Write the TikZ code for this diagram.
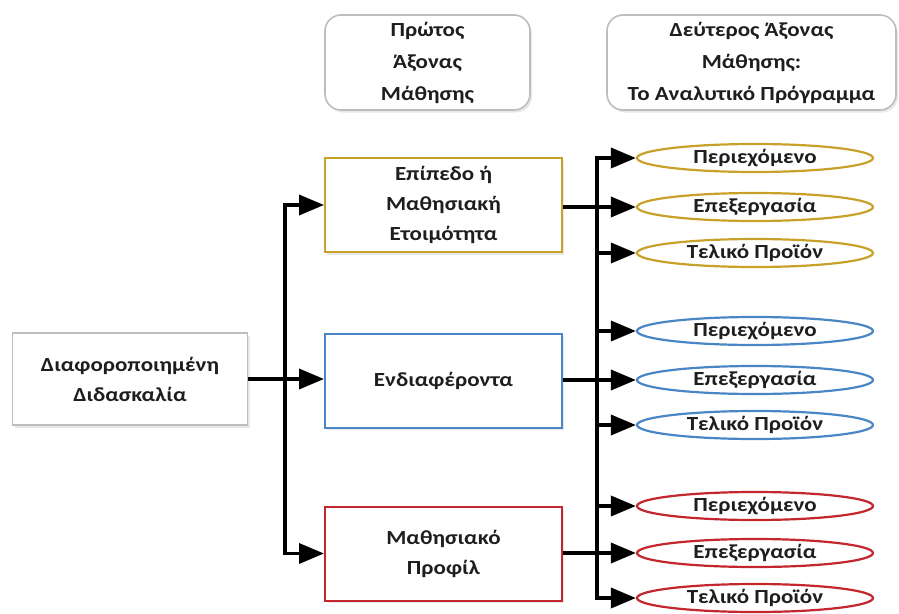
\documentclass[tikz,border=0pt]{standalone}
\usepackage{fontspec}
\setmainfont{Carlito}[FakeStretch=1.15]
\usetikzlibrary{arrows.meta,shapes.geometric,shadows}
\definecolor{gold}{HTML}{C8A12A}
\definecolor{skyblue}{HTML}{4A86C5}
\definecolor{crimson}{HTML}{C4262E}
\definecolor{framegray}{HTML}{BDBDBD}
\definecolor{ink}{HTML}{1E1E1E}
\tikzset{
  softshadow/.style={drop shadow={opacity=0.18, shadow xshift=2pt, shadow yshift=-2.5pt}},
  txt/.style={text=ink, font=\bfseries\fontsize{20}{30}\selectfont, align=center, inner sep=0pt},
  mainbox/.style={txt, draw=framegray, line width=1.6pt, fill=white, softshadow,
    minimum width=235pt, minimum height=92pt},
  axisbox/.style={txt, draw=framegray, line width=1.6pt, fill=white, softshadow,
    rounded corners=16pt, minimum height=95pt, font=\bfseries\fontsize{20}{32}\selectfont},
  levelbox/.style={txt, draw=#1, line width=2pt, fill=white, softshadow,
    minimum width=237pt, minimum height=94pt},
  leaf/.style={txt, ellipse, draw=#1, line width=2.2pt, fill=white,
    minimum width=236pt, minimum height=28pt},
  wire/.style={line width=3.6pt, line cap=butt, line join=miter},
  arr/.style={wire, -{Triangle[length=25pt, width=20pt]}}
}
\begin{document}
\begin{tikzpicture}[x=1pt, y=-1pt]
\useasboundingbox (0,0) rectangle (899,613);

% column headers
\node[axisbox, minimum width=205pt] (ax1) at (427.5,62.5) {Πρώτος\\Άξονας\\Μάθησης};
\node[axisbox, minimum width=289pt] (ax2) at (751.5,62.5) {Δεύτερος Άξονας\\Μάθησης:\\Το Αναλυτικό Πρόγραμμα};

% root
\node[mainbox] (root) at (130,379) {Διαφοροποιημένη\\Διδασκαλία};

% three dimensions
\node[levelbox=gold]    (lvl)  at (443.5,205) {Επίπεδο ή\\Μαθησιακή\\Ετοιμότητα};
\node[levelbox=skyblue] (intr) at (443.5,380.5) {Ενδιαφέροντα};
\node[levelbox=crimson] (prof) at (443.5,553.5) {Μαθησιακό\\Προφίλ};

% curriculum elements
\node[leaf=gold] (g1) at (755,158) {Περιεχόμενο};
\node[leaf=gold] (g2) at (755,207) {Επεξεργασία};
\node[leaf=gold] (g3) at (755,253) {Τελικό Προϊόν};
\node[leaf=skyblue] (b1) at (755,331) {Περιεχόμενο};
\node[leaf=skyblue] (b2) at (755,380) {Επεξεργασία};
\node[leaf=skyblue] (b3) at (755,425) {Τελικό Προϊόν};
\node[leaf=crimson] (r1) at (755,506) {Περιεχόμενο};
\node[leaf=crimson] (r2) at (755,553) {Επεξεργασία};
\node[leaf=crimson] (r3) at (755,598) {Τελικό Προϊόν};

% left bus
\coordinate (lbus) at (285,379);
\draw[arr] (root.east) -- (intr.west |- root.east);
\draw[arr] (lbus) |- (lvl.west);
\draw[arr] (lbus) |- (prof.west);

% right bus
\coordinate (rtop) at (597,156.2);
\coordinate (rbot) at (597,600);
\draw[wire] (rtop) -- (rbot);
\draw[wire] (lvl.east |- g2.west) -- (rtop |- g2.west);
\draw[wire] (intr.east |- b2.west) -- (rtop |- b2.west);
\draw[wire] (prof.east |- r2.west) -- (rtop |- r2.west);
\foreach \e in {g1,g2,g3,b1,b2,b3,r1,r2,r3}
  \draw[arr] (rtop |- \e.west) -- (\e.west);
\end{tikzpicture}
\end{document}
